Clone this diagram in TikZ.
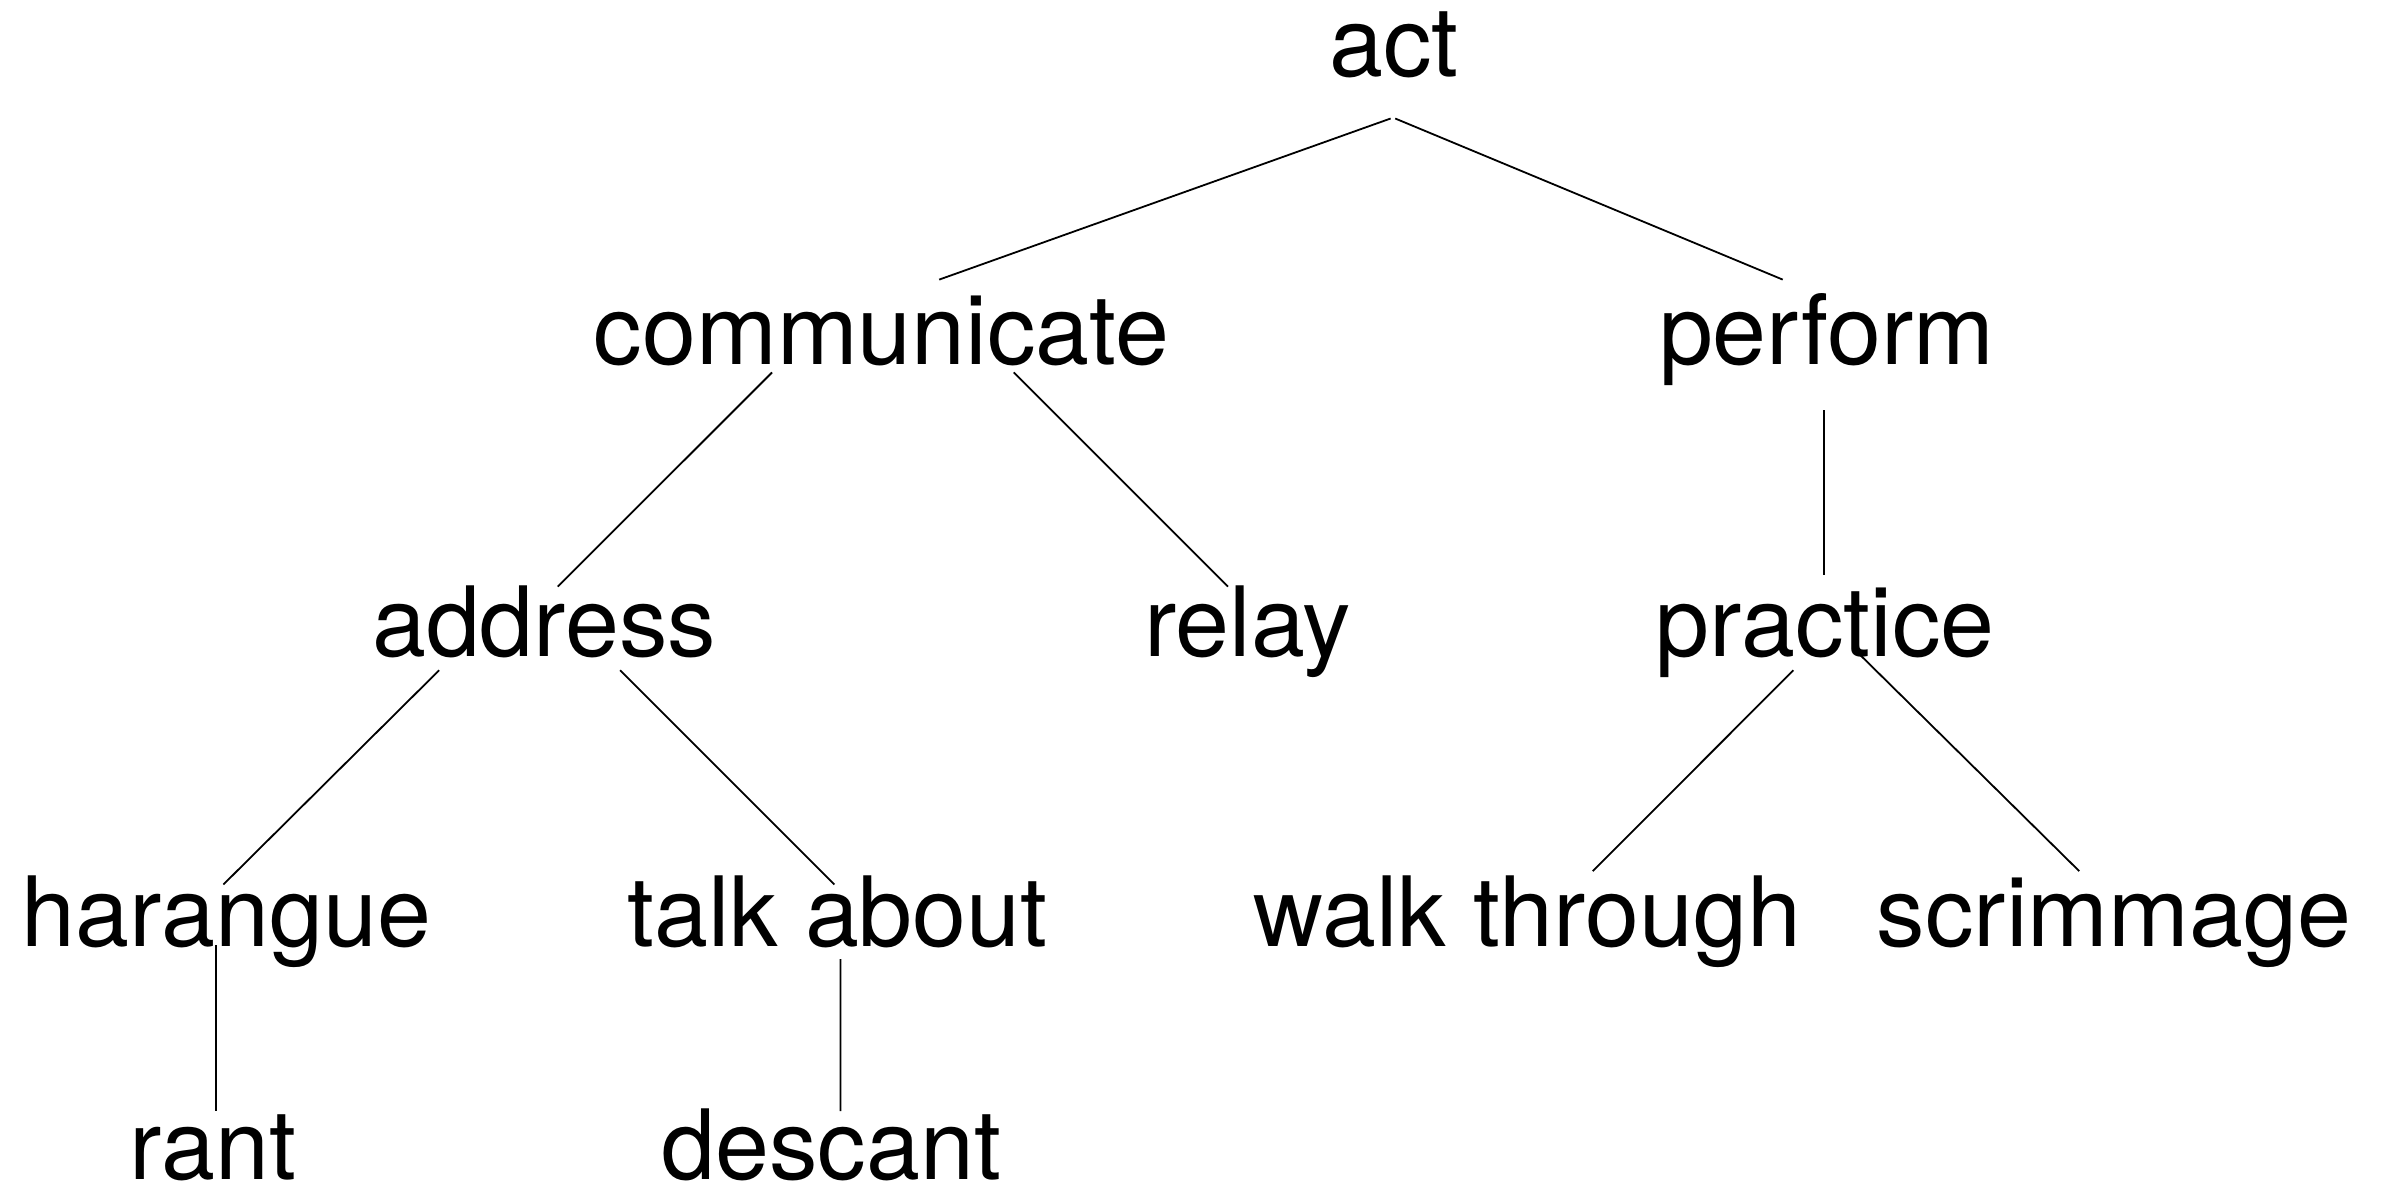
\documentclass[tikz,border=0pt]{standalone}
\usepackage{fontspec}
\setmainfont{TeX Gyre Heros}
\begin{document}
\begin{tikzpicture}[x=1pt,y=-1pt,
  lbl/.style={anchor=base, inner sep=0pt, font=\fontsize{97}{110}\selectfont},
  edge/.style={line width=1.8pt, black}]
\useasboundingbox (0,0) rectangle (2383,1187);
\node[lbl] (act) at (1394,76) {act};
\node[lbl] (communicate) at (881.5,364.8) {communicate};
\node[lbl] (perform) at (1826.8,364.8) {perform};
\node[lbl] (address) at (544.1,656.6) {address};
\node[lbl] (relay) at (1247.8,656.6) {relay};
\node[lbl] (practice) at (1825.3,656.6) {practice};
\node[lbl] (harangue) at (226.5,946.8) {harangue};
\node[lbl] (talkabout) at (837.4,946.8) {talk about};
\node[lbl] (walkthrough) at (1527.4,946.8) {walk through};
\node[lbl] (scrimmage) at (2114,946.8) {scrimmage};
\node[lbl] (rant) at (212.8,1179.5) {rant};
\node[lbl] (descant) at (831.3,1179.5) {descant};

\draw[edge] ([shift={(-3.4,42.5)}]act.base) -- ([shift={(57.7,-85.2)}]communicate.base);
\draw[edge] ([shift={(1.2,42.5)}]act.base) -- ([shift={(-44.1,-85.2)}]perform.base);
\draw[edge] ([shift={(-109.4,7.6)}]communicate.base) -- ([shift={(13.7,-70)}]address.base);
\draw[edge] ([shift={(132.2,7.6)}]communicate.base) -- ([shift={(-19.8,-70)}]relay.base);
\draw[edge] ([shift={(-3,45.5)}]perform.base) -- ([shift={(-1.5,-82.1)}]practice.base);
\draw[edge] ([shift={(-104.9,13.6)}]address.base) -- ([shift={(-3.1,-62.3)}]harangue.base);
\draw[edge] ([shift={(76,13.6)}]address.base) -- ([shift={(-3,-62.3)}]talkabout.base);
\draw[edge] ([shift={(-31.9,13.6)}]practice.base) -- ([shift={(65.4,-75.7)}]walkthrough.base);
\draw[edge] ([shift={(33.4,-3.1)}]practice.base) -- ([shift={(-34.8,-75.7)}]scrimmage.base);
\draw[edge] ([shift={(-10.7,-1.5)}]harangue.base) -- ([shift={(3,-68.5)}]rant.base);
\draw[edge] ([shift={(3,12.2)}]talkabout.base) -- ([shift={(9.1,-68.5)}]descant.base);
\end{tikzpicture}
\end{document}
